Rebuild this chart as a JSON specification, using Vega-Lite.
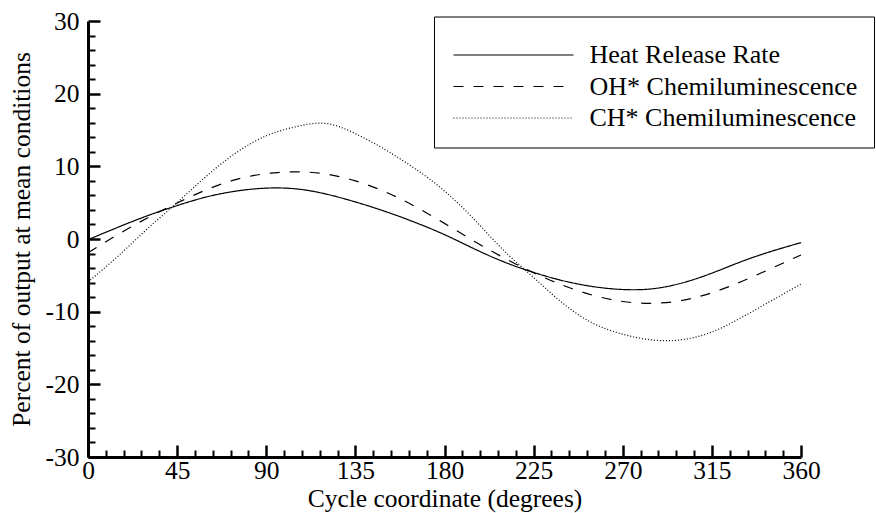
{
  "$schema": "https://vega.github.io/schema/vega-lite/v6.json",
  "width": 713,
  "height": 436,
  "autosize": "none",
  "padding": {"left": 88, "top": 21, "right": 75, "bottom": 56},
  "background": "white",
  "config": {
    "font": "Liberation Serif",
    "view": {"stroke": null},
    "axis": {"grid": false, "labelFont": "Liberation Serif", "titleFont": "Liberation Serif", "labelColor": "black", "titleColor": "black", "tickColor": "black", "domainColor": "black", "labelFontSize": 25.5, "titleFontSize": 25.5, "titleFontWeight": "normal", "labelFlush": false, "labelOverlap": false},
    "legend": {"labelFont": "Liberation Serif", "titleFont": "Liberation Serif"}
  },
  "data": {
    "values": [
      {"deg": 0, "v": -0.1, "s": "Heat Release Rate"},
      {"deg": 15, "v": 1.6, "s": "Heat Release Rate"},
      {"deg": 30, "v": 3.2, "s": "Heat Release Rate"},
      {"deg": 45, "v": 4.6, "s": "Heat Release Rate"},
      {"deg": 60, "v": 5.8, "s": "Heat Release Rate"},
      {"deg": 75, "v": 6.6, "s": "Heat Release Rate"},
      {"deg": 90, "v": 7.0, "s": "Heat Release Rate"},
      {"deg": 105, "v": 6.9, "s": "Heat Release Rate"},
      {"deg": 120, "v": 6.2, "s": "Heat Release Rate"},
      {"deg": 135, "v": 5.1, "s": "Heat Release Rate"},
      {"deg": 150, "v": 3.8, "s": "Heat Release Rate"},
      {"deg": 165, "v": 2.3, "s": "Heat Release Rate"},
      {"deg": 180, "v": 0.6, "s": "Heat Release Rate"},
      {"deg": 195, "v": -1.35, "s": "Heat Release Rate"},
      {"deg": 210, "v": -3.15, "s": "Heat Release Rate"},
      {"deg": 225, "v": -4.6, "s": "Heat Release Rate"},
      {"deg": 240, "v": -5.75, "s": "Heat Release Rate"},
      {"deg": 255, "v": -6.55, "s": "Heat Release Rate"},
      {"deg": 270, "v": -6.95, "s": "Heat Release Rate"},
      {"deg": 285, "v": -6.85, "s": "Heat Release Rate"},
      {"deg": 300, "v": -6.05, "s": "Heat Release Rate"},
      {"deg": 315, "v": -4.7, "s": "Heat Release Rate"},
      {"deg": 330, "v": -3.1, "s": "Heat Release Rate"},
      {"deg": 345, "v": -1.7, "s": "Heat Release Rate"},
      {"deg": 360, "v": -0.5, "s": "Heat Release Rate"},
      {"deg": 0, "v": -1.9, "s": "OH* Chemiluminescence"},
      {"deg": 15, "v": 0.6, "s": "OH* Chemiluminescence"},
      {"deg": 30, "v": 2.9, "s": "OH* Chemiluminescence"},
      {"deg": 45, "v": 4.95, "s": "OH* Chemiluminescence"},
      {"deg": 60, "v": 6.8, "s": "OH* Chemiluminescence"},
      {"deg": 75, "v": 8.2, "s": "OH* Chemiluminescence"},
      {"deg": 90, "v": 9.0, "s": "OH* Chemiluminescence"},
      {"deg": 105, "v": 9.25, "s": "OH* Chemiluminescence"},
      {"deg": 120, "v": 8.95, "s": "OH* Chemiluminescence"},
      {"deg": 135, "v": 8.0, "s": "OH* Chemiluminescence"},
      {"deg": 150, "v": 6.5, "s": "OH* Chemiluminescence"},
      {"deg": 165, "v": 4.5, "s": "OH* Chemiluminescence"},
      {"deg": 180, "v": 2.15, "s": "OH* Chemiluminescence"},
      {"deg": 195, "v": -0.3, "s": "OH* Chemiluminescence"},
      {"deg": 210, "v": -2.6, "s": "OH* Chemiluminescence"},
      {"deg": 225, "v": -4.65, "s": "OH* Chemiluminescence"},
      {"deg": 240, "v": -6.4, "s": "OH* Chemiluminescence"},
      {"deg": 255, "v": -7.75, "s": "OH* Chemiluminescence"},
      {"deg": 270, "v": -8.6, "s": "OH* Chemiluminescence"},
      {"deg": 285, "v": -8.85, "s": "OH* Chemiluminescence"},
      {"deg": 300, "v": -8.45, "s": "OH* Chemiluminescence"},
      {"deg": 315, "v": -7.4, "s": "OH* Chemiluminescence"},
      {"deg": 330, "v": -5.85, "s": "OH* Chemiluminescence"},
      {"deg": 345, "v": -4.05, "s": "OH* Chemiluminescence"},
      {"deg": 360, "v": -2.2, "s": "OH* Chemiluminescence"},
      {"deg": 0, "v": -5.9, "s": "CH* Chemiluminescence"},
      {"deg": 15, "v": -2.4, "s": "CH* Chemiluminescence"},
      {"deg": 30, "v": 1.4, "s": "CH* Chemiluminescence"},
      {"deg": 45, "v": 5.0, "s": "CH* Chemiluminescence"},
      {"deg": 60, "v": 8.7, "s": "CH* Chemiluminescence"},
      {"deg": 75, "v": 11.9, "s": "CH* Chemiluminescence"},
      {"deg": 90, "v": 14.2, "s": "CH* Chemiluminescence"},
      {"deg": 105, "v": 15.45, "s": "CH* Chemiluminescence"},
      {"deg": 120, "v": 15.9, "s": "CH* Chemiluminescence"},
      {"deg": 135, "v": 14.5, "s": "CH* Chemiluminescence"},
      {"deg": 150, "v": 12.3, "s": "CH* Chemiluminescence"},
      {"deg": 165, "v": 9.7, "s": "CH* Chemiluminescence"},
      {"deg": 180, "v": 6.6, "s": "CH* Chemiluminescence"},
      {"deg": 195, "v": 2.7, "s": "CH* Chemiluminescence"},
      {"deg": 210, "v": -1.6, "s": "CH* Chemiluminescence"},
      {"deg": 225, "v": -5.3, "s": "CH* Chemiluminescence"},
      {"deg": 240, "v": -8.9, "s": "CH* Chemiluminescence"},
      {"deg": 255, "v": -11.6, "s": "CH* Chemiluminescence"},
      {"deg": 270, "v": -13.1, "s": "CH* Chemiluminescence"},
      {"deg": 285, "v": -13.9, "s": "CH* Chemiluminescence"},
      {"deg": 300, "v": -13.85, "s": "CH* Chemiluminescence"},
      {"deg": 315, "v": -12.8, "s": "CH* Chemiluminescence"},
      {"deg": 330, "v": -10.8, "s": "CH* Chemiluminescence"},
      {"deg": 345, "v": -8.5, "s": "CH* Chemiluminescence"},
      {"deg": 360, "v": -6.2, "s": "CH* Chemiluminescence"}
    ]
  },
  "layer": [
    {
      "mark": {"type": "line", "opacity": 0},
      "encoding": {
        "x": {"field": "deg", "type": "quantitative", "scale": {"domain": [0, 360], "nice": false},
          "axis": {"orient": "bottom", "values": [9,18,27,36,54,63,72,81,99,108,117,126,144,153,162,171,189,198,207,216,234,243,252,261,279,288,297,306,324,333,342,351], "labels": false, "domain": false, "tickSize": -7, "tickWidth": 2, "title": null, "zindex": 1}},
        "y": {"field": "v", "type": "quantitative", "scale": {"domain": [-30, 30], "nice": false},
          "axis": {"orient": "left", "values": [-28,-26,-24,-22,-18,-16,-14,-12,-8,-6,-4,-2,2,4,6,8,12,14,16,18,22,24,26,28], "labels": false, "domain": false, "tickSize": -7, "tickWidth": 2, "title": null, "zindex": 1}},
        "detail": {"field": "s", "type": "nominal"}
      }
    },
    {
      "mark": {"type": "line", "interpolate": "natural", "color": "black", "strokeWidth": 1.2},
      "encoding": {
        "x": {"field": "deg", "type": "quantitative",
          "axis": {"orient": "bottom", "values": [0,45,90,135,180,225,270,315,360], "labelExpr": "'' + datum.value", "tickSize": -12, "tickWidth": 2.5, "domainWidth": 3, "labelPadding": 13, "title": "Cycle coordinate (degrees)", "titlePadding": 3, "zindex": 2}},
        "y": {"field": "v", "type": "quantitative",
          "axis": {"orient": "left", "values": [-30,-20,-10,0,10,20,30], "labelExpr": "'' + datum.value", "tickSize": -12, "tickWidth": 2.5, "domainWidth": 3, "labelPadding": 21, "title": "Percent of output at mean conditions", "titlePadding": 11, "zindex": 2}},
        "strokeDash": {"field": "s", "type": "nominal",
          "scale": {"domain": ["Heat Release Rate", "OH* Chemiluminescence", "CH* Chemiluminescence"], "range": [[1, 0], [10, 10], [1, 2]]},
          "legend": {"orient": "none", "legendX": 346, "legendY": -4.5, "title": " ", "titleFontSize": 8, "titlePadding": 1, "symbolType": "M-1,0H11", "symbolSize": 400, "symbolStrokeColor": "black", "symbolStrokeWidth": 1.2, "labelFontSize": 26, "labelColor": "black", "labelOffset": 113, "padding": 16.5, "rowPadding": 5.5, "strokeColor": "black", "fillColor": "white", "labelLimit": 400}}
      }
    }
  ],
  "resolve": {"axis": {"x": "independent", "y": "independent"}}
}
